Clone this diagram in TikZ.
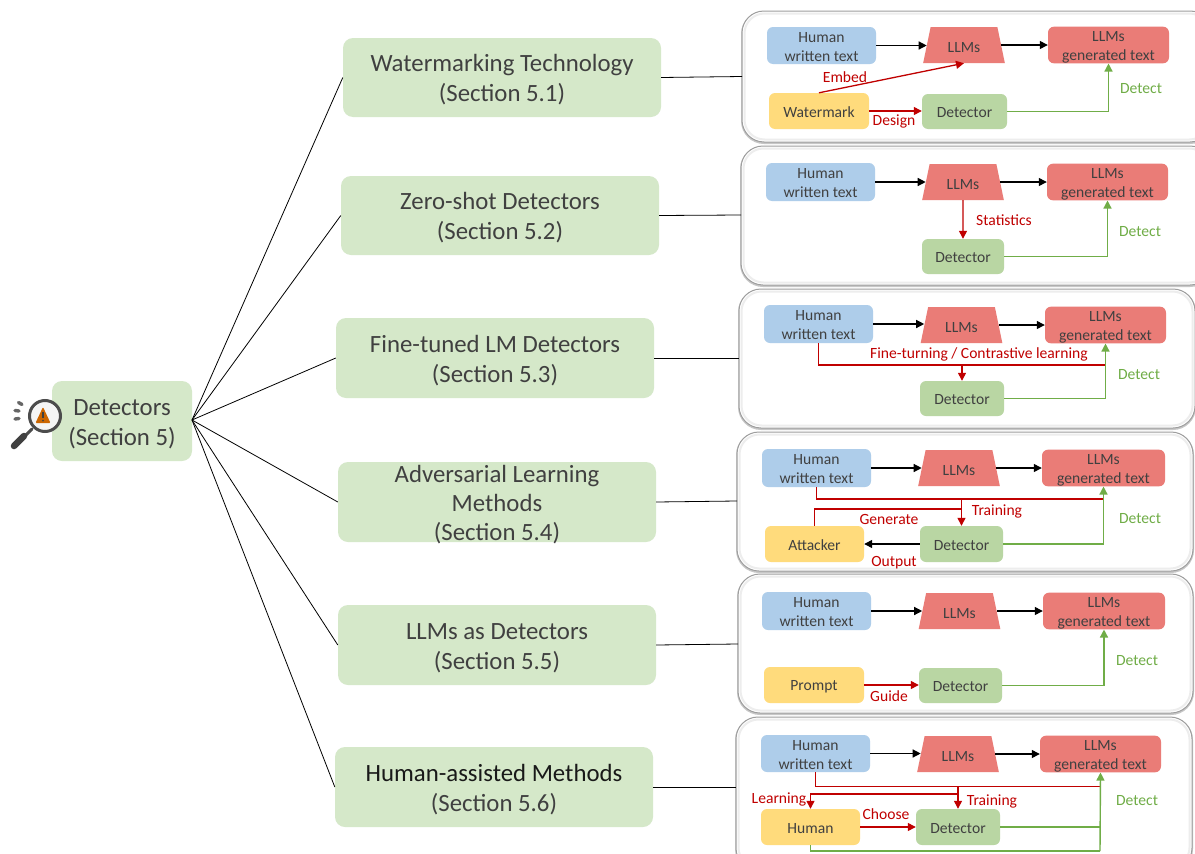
\documentclass[tikz,border=0pt]{standalone}
\usepackage{fontspec}
\setmainfont{Carlito}
\usetikzlibrary{shapes.geometric,arrows.meta}
\definecolor{ink}{HTML}{404040}
\definecolor{cblue}{HTML}{AECDEA}
\definecolor{cred}{HTML}{EA7C77}
\definecolor{cyellow}{HTML}{FFDB7C}
\definecolor{cgreen}{HTML}{B9D6A3}
\definecolor{cleft}{HTML}{D5E8C9}
\definecolor{lred}{HTML}{C00000}
\definecolor{lgreen}{HTML}{70AD47}
\tikzset{
  small/.style={font=\fontsize{15.6}{19}\selectfont,text=ink,align=center,inner sep=0pt,execute at begin node={\rule{0pt}{14.5pt}}},
  bluebox/.style={small,fill=cblue,rounded corners=6pt,execute at begin node={\rule{0pt}{32pt}}},
  redbox/.style={small,fill=cred,rounded corners=6pt,execute at begin node={\rule{0pt}{34pt}}},
  yellowbox/.style={small,fill=cyellow,rounded corners=6pt,execute at begin node={\rule[-2pt]{0pt}{5pt}}},
  greenbox/.style={small,fill=cgreen,rounded corners=6pt,execute at begin node={\rule[-2pt]{0pt}{5pt}}},
  topic/.style={font=\fontsize{24.8}{30}\selectfont,text=ink,align=center,inner sep=0pt,fill=cleft,rounded corners=10pt,execute at begin node={\rule{0pt}{51.5pt}}},
  llm/.style={small,fill=cred,trapezium,trapezium stretches=true,trapezium left angle=76,trapezium right angle=76},
  frameshadow/.style={draw=black!22,line width=2pt,rounded corners=22pt},
  frameouter/.style={draw=black!38,line width=1pt,rounded corners=22pt,fill=white},
  frameinner/.style={draw=black!7,line width=2pt,rounded corners=20pt},
  tree/.style={draw=black,line width=0.8pt},
  blk/.style={draw=black,line width=1.3pt,-{Triangle[length=8pt,width=8pt]}},
  redl/.style={draw=lred,line width=1.3pt},
  reda/.style={redl,-{Triangle[length=8pt,width=8pt]}},
  grna/.style={draw=lgreen,line width=1.4pt,-{Triangle[length=8pt,width=8pt]}},
  grnl/.style={draw=lgreen,line width=1.4pt},
  redt/.style={font=\fontsize{15.6}{18}\selectfont,text=lred,inner sep=0pt},
  grnt/.style={font=\fontsize{15.6}{18}\selectfont,text=lgreen,inner sep=0pt}
}
\newcommand\mybox[7][]{%
  \node[#2,minimum width={(#5-#3)*1pt},minimum height={(#6-#4)*1pt},#1] (#7) at ({(#3+#5)/2},{(#4+#6)/2})}
\newcommand\myframe[4]{%
  \draw[frameshadow] (#1,#2+1) rectangle (#3,#4+1);
  \draw[frameouter] (#1,#2) rectangle (#3,#4);
  \draw[frameinner] (#1+2.5,#2+2.5) rectangle (#3-2.5,#4-2.5);}
\begin{document}
\begin{tikzpicture}[x=1pt,y=-1pt]
\useasboundingbox (0,0) rectangle (1195,854);
\clip (0,0) rectangle (1195,854);
\fill[white] (0,0) rectangle (1195,854);

% ---- panels' frames
\myframe{742}{11}{1212}{142}
\myframe{741}{146}{1212}{285}
\myframe{739}{289}{1195}{428}
\myframe{737}{432}{1193}{571}
\myframe{738}{574}{1193}{713}
\myframe{736}{717}{1192}{870}

% ---- left side
\mybox{topic}{52}{381}{192}{461}{root}{Detectors\\(Section 5)};
\mybox{topic}{343}{38}{661}{117}{t1}{Watermarking Technology\\(Section 5.1)};
\mybox{topic}{341}{176}{659}{255}{t2}{Zero-shot Detectors\\(Section 5.2)};
\mybox{topic}{336}{318}{654}{398}{t3}{Fine-tuned LM Detectors\\(Section 5.3)};
\mybox[font=\fontsize{24.8}{29}\selectfont,execute at begin node={},text height=78.5pt,text depth=1.5pt]{topic}{338}{462}{656}{542}{t4}{Adversarial Learning\\Methods\\(Section 5.4)};
\mybox{topic}{338}{605}{656}{685}{t5}{LLMs as Detectors\\(Section 5.5)};
\mybox[text=black!90]{topic}{335}{747}{653}{827}{t6}{Human-assisted Methods\\{\color{ink}(Section 5.6)}};

\coordinate (hub) at (192,420);
\foreach \i in {1,...,6} {\draw[tree] (hub) -- (t\i.west);}
\draw[tree] (t1.east) -- (742,76.5);
\draw[tree] (t2.east) -- (741,215);
\draw[tree] (t3.east) -- (739,358);
\draw[tree] (t4.east) -- (737,501);
\draw[tree] (t5.east) -- (738,644);
\draw[tree] (t6.east) -- (736,787);

% ---- icon
\draw[line cap=round,line width=3pt,color=black!70] (32,429) -- (26,435);
\draw[line cap=round,line width=6.5pt,color=black!75] (24,436) -- (14,446);
\draw[line width=3pt,color=black!70,fill=black!4] (45,416) circle (15.5);
\fill[color=orange!80!black,rounded corners=1pt] (43,407) -- (50.5,423) -- (35.5,423) -- cycle;
\draw[line width=1.4pt,color=black!75] (43,412) -- (43,418);
\fill[color=black!75] (43,420.5) circle (1);
\draw[line cap=round,line width=3.4pt,color=black!60] (18.5,402.5) -- (22,404.5);
\draw[line cap=round,line width=3.4pt,color=black!60] (15,410.5) -- (19,411);
\draw[line cap=round,line width=3.4pt,color=black!60] (15,419) -- (19,418.5);

% ---- panel 1
\mybox{bluebox}{767}{27}{876}{64}{h1}{Human\\written text};
\node[llm,minimum width=82pt,minimum height=36pt] (l1) at (964,45) {LLMs};
\mybox{redbox}{1048}{27}{1169}{63}{g1}{LLMs\\generated text};
\mybox{yellowbox}{769}{93}{869}{129}{w1}{Watermark};
\mybox{greenbox}{922}{94}{1007}{129}{d1}{Detector};
\draw[blk] (h1.east) -- (h1.east -| l1.west);
\draw[blk] (l1.east) -- (l1.east -| g1.west);
\draw[reda] (w1.north) -- (l1.south);
\draw[reda] (w1.east) -- (w1.east -| d1.west);
\draw[grna] (d1.east) -| (g1.south);
\node[redt] (e1) at (845,77.5) {Embed};
\node[redt] (e2) at (894,121.5) {Design};
\node[grnt] (e3) at (1141,89) {Detect};

% ---- panel 2
\mybox{bluebox}{766}{163}{875}{201}{h2}{Human\\written text};
\node[llm,minimum width=82pt,minimum height=36pt] (l2) at (963,182) {LLMs};
\mybox{redbox}{1047}{164}{1168}{200}{g2}{LLMs\\generated text};
\mybox{greenbox}{922}{239}{1004}{274}{d2}{Detector};
\draw[blk] (h2.east) -- (h2.east -| l2.west);
\draw[blk] (l2.east) -- (l2.east -| g2.west);
\draw[reda] (l2.south) -- (d2.north);
\draw[grna] (d2.east) -| (g2.south);
\node[redt] (s2) at (1004,220.5) {Statistics};
\node[grnt] (t2b) at (1140,232) {Detect};

% ---- panel 3
\mybox{bluebox}{764}{305}{873}{343}{h3}{Human\\written text};
\node[llm,minimum width=82pt,minimum height=36pt] (l3) at (961.5,325) {LLMs};
\mybox{redbox}{1045}{307}{1166}{343}{g3}{LLMs\\generated text};
\mybox{greenbox}{920}{381}{1004}{416}{d3}{Detector};
\coordinate (c3) at (1105.5,365);
\draw[blk] (h3.east) -- (h3.east -| l3.west);
\draw[blk] (l3.east) -- (l3.east -| g3.west);
\draw[redl] (h3.south) |- (c3);
\draw[reda] (c3 -| d3.north) -- (d3.north);
\draw[grna] (d3.east) -| (g3.south);
\node[redt] (f3) at (979,354.5) {Fine-turning / Contrastive learning};
\node[grnt] (t3b) at (1139,375) {Detect};

% ---- panel 4
\mybox{bluebox}{762}{449}{871}{487}{h4}{Human\\written text};
\node[llm,minimum width=82pt,minimum height=36pt] (l4) at (959,468) {LLMs};
\mybox{redbox}{1042}{450}{1165}{486}{g4}{LLMs\\generated text};
\mybox{yellowbox}{765}{526}{864}{562}{a4}{Attacker};
\mybox{greenbox}{920}{526}{1003}{562}{d4}{Detector};
\coordinate (c4) at (1104,499);
\coordinate (k4) at (962,509);
\draw[blk] (h4.east) -- (h4.east -| l4.west);
\draw[blk] (l4.east) -- (l4.east -| g4.west);
\draw[redl] (h4.south) |- (c4);
\draw[reda] (c4 -| d4.north) -- (d4.north);
\draw[redl] (a4.north) |- (k4);
\draw[blk] (d4.west) -- (a4.east);
\draw[grna] (d4.east) -| (g4.south);
\node[redt] (g4t) at (889,519.5) {Generate};
\node[redt] (r4) at (997,511.5) {Training};
\node[redt] (o4) at (894,562.5) {Output};
\node[grnt] (t4b) at (1140,519) {Detect};

% ---- panel 5
\mybox{bluebox}{762}{592}{871}{630}{h5}{Human\\written text};
\node[llm,minimum width=82pt,minimum height=36pt] (l5) at (959.5,611) {LLMs};
\mybox{redbox}{1043}{593}{1165}{629}{g5}{LLMs\\generated text};
\mybox[execute at begin node={}]{yellowbox}{764}{667}{864}{703}{p5}{Prompt};
\mybox{greenbox}{919}{668}{1002}{703}{d5}{Detector};
\draw[blk] (h5.east) -- (h5.east -| l5.west);
\draw[blk] (l5.east) -- (l5.east -| g5.west);
\draw[reda] (p5.east) -- (p5.east -| d5.west);
\draw[grna] (d5.east) -| (g5.south);
\node[redt] (u5) at (889,696.5) {Guide};
\node[grnt] (t5b) at (1137,661) {Detect};

% ---- panel 6
\mybox{bluebox}{761}{735}{870}{772}{h6}{Human\\written text};
\node[llm,minimum width=82pt,minimum height=36pt] (l6) at (958,754) {LLMs};
\mybox{redbox}{1040}{736}{1161}{772}{g6}{LLMs\\generated text};
\mybox{yellowbox}{761}{809}{860}{845}{u6}{Human};
\mybox{greenbox}{916}{809}{1000}{845}{d6}{Detector};
\coordinate (c6) at (1100,786.5);
\coordinate (k6) at (957.5,794);
\coordinate (b6) at (1100,851);
\draw[blk] (h6.east) -- (h6.east -| l6.west);
\draw[blk] (l6.east) -- (l6.east -| g6.west);
\draw[redl] (h6.south) |- (c6);
\draw[reda] (c6 -| d6.north) -- (d6.north);
\draw[reda] (k6) -| (u6.north);
\draw[reda] (u6.east) -- (d6.west);
\draw[grnl] (d6.east) -- (d6.east -| g6.south);
\draw[grnl] (u6.south) |- (b6);
\draw[grna] (b6) -- (g6.south);
\node[redt] (n6) at (779,799.5) {Learning};
\node[redt] (r6) at (992,801.5) {Training};
\node[redt] (o6) at (886,814.5) {Choose};
\node[grnt] (t6b) at (1137,801) {Detect};
\end{tikzpicture}
\end{document}
